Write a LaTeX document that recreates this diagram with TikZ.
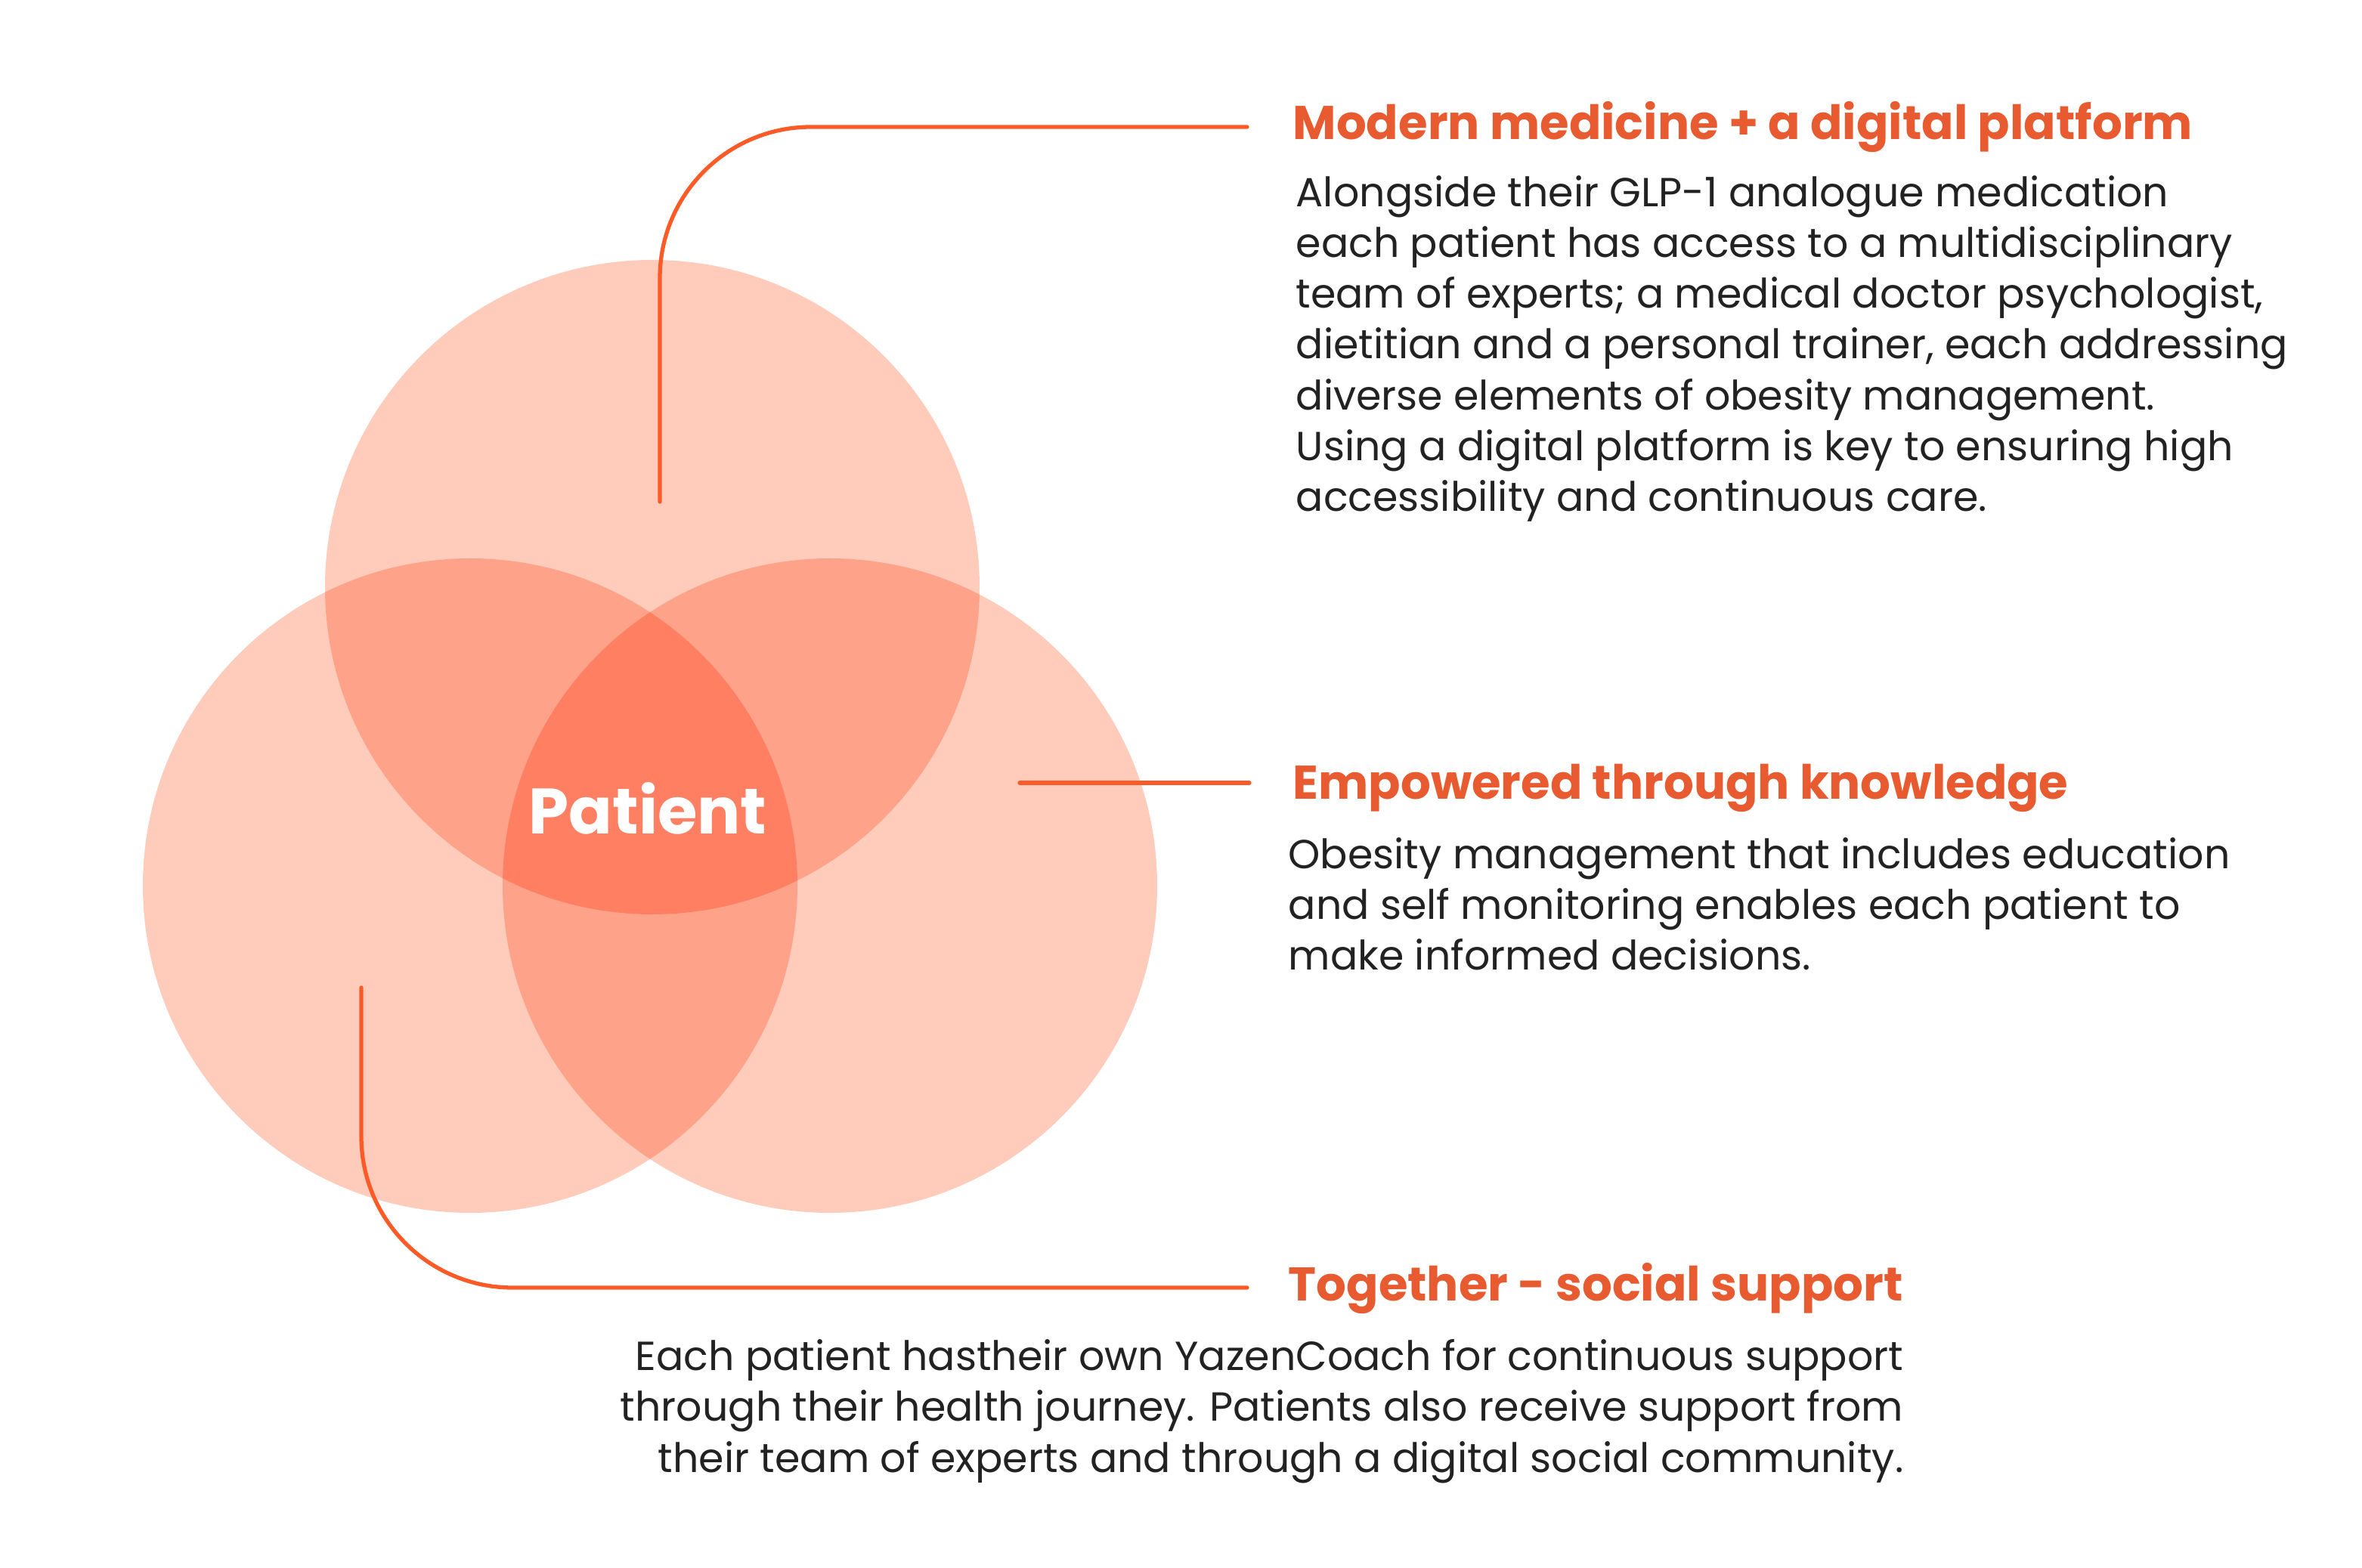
\documentclass[tikz,border=0pt]{standalone}
\usepackage{fontspec}
\setmainfont{Poppins}
\usetikzlibrary{positioning}
\definecolor{petal}{HTML}{FFCBBB}
\definecolor{petalmid}{HTML}{FFA28A}
\definecolor{petalcore}{HTML}{FF7F63}
\definecolor{leadcol}{HTML}{FC5A26}
\definecolor{headcol}{HTML}{E85A30}
\definecolor{ink}{HTML}{222222}

\begin{document}
\begin{tikzpicture}
      [
        heading/.style={anchor=base west, inner sep=0pt, text=headcol,
          font=\fontsize{17.8}{21}\selectfont\bfseries},
        body/.style={inner sep=0pt, text=ink,
          font=\fontsize{15.3}{19.1}\selectfont},
        leader/.style={draw=leadcol, line width=1.5pt, line cap=round,
          rounded corners=2cm}
      ]
      \useasboundingbox (0,0) rectangle (31.25,20.75);
      % circles
      \coordinate (top) at (8.63,12.98);
      \coordinate (left) at (6.22,9.03);
      \coordinate (right) at (10.98,9.03);
      \foreach \c in {top,left,right} {
          \fill [petal] (\c) circle (4.33);
      }
      % pairwise overlaps
      \foreach \a/\b in {top/left,top/right,left/right} {
          \begin{scope}
            \clip (\a) circle (4.33);
            \fill [petalmid] (\b) circle (4.33);
          \end{scope}
      }
      % centre
      \begin{scope}
        \clip (top) circle (4.33);
        \clip (left) circle (4.33);
        \fill [petalcore] (right) circle (4.33);
      \end{scope}
      \node [text=white, font=\fontsize{24.2}{28}\selectfont\bfseries]
        (patient) at (8.57,10.05) {Patient};
      % headings
      \node [heading] (t1) at (17.10,18.90) {Modern medicine + a digital platform};
      \node [heading] (t2) at (17.10,10.17) {Empowered through knowledge};
      \node [heading] (t3) at (17.04,3.53) {Together - social support};
      % texts
      \node [body, anchor=north west, align=left] (b1) at (17.14,18.43)
        {Alongside their GLP-1 analogue medication\\
         each patient has access to a multidisciplinary\\
         team of experts; a medical doctor psychologist,\\
         dietitian and a personal trainer, each addressing\\
         diverse elements of obesity management.\\
         Using a digital platform is key to ensuring high\\
         accessibility and continuous care.};
      \node [body, anchor=north west, align=left] (b2) at (17.04,9.67)
        {Obesity management that includes education\\
         and self monitoring enables each patient to\\
         make informed decisions.};
      \node [body, anchor=north east, align=right] (b3) at (25.19,3.03)
        {Each patient hastheir own YazenCoach for continuous support\\
         through their health journey. Patients also receive support from\\
         their team of experts and through a digital social community.};
      % leader lines
      \coordinate (m1) at (8.73,14.11);
      \coordinate (m1end) at (16.50,19.07);
      \coordinate (m2) at (13.49,10.39);
      \coordinate (m2end) at (16.53,10.39);
      \coordinate (m3) at (4.78,7.68);
      \coordinate (m3end) at (16.50,3.71);
      \draw [leader] (m1) |- (m1end);
      \draw [leader] (m2) -- (m2end);
      \draw [leader] (m3) |- (m3end);
    \end{tikzpicture}
\end{document}
